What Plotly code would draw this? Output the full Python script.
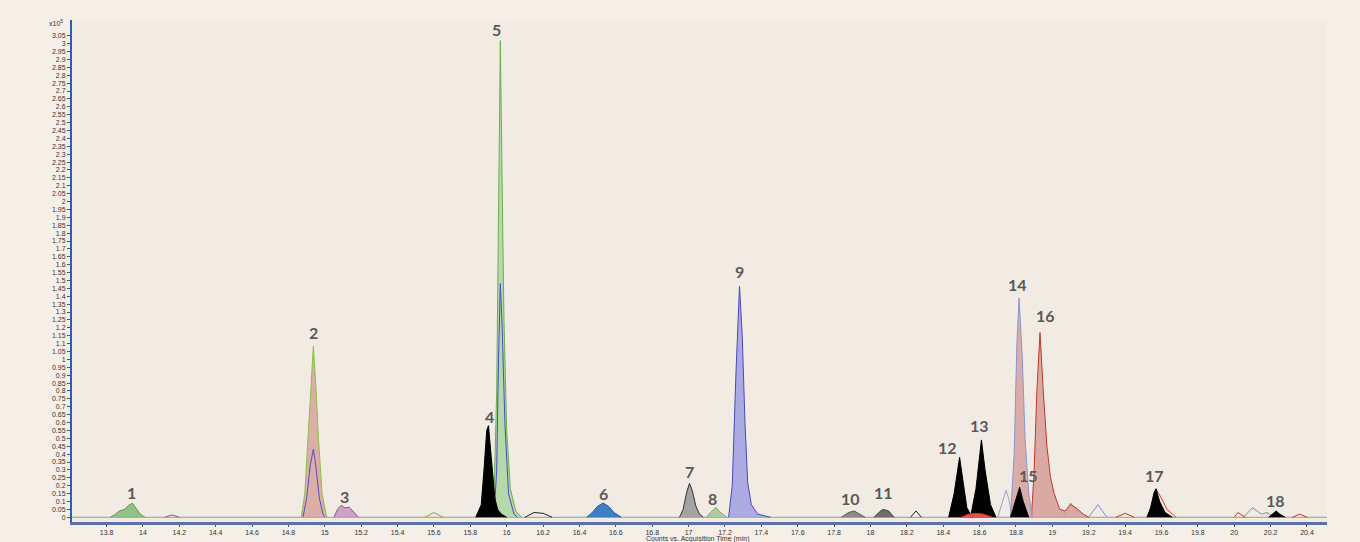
import plotly.graph_objects as go

# ---------------- data (time in min, counts x10^5) ----------------
p1_t = [13.82, 13.85, 13.87, 13.90, 13.92, 13.943, 13.96, 13.985, 14.01]
p1_v = [0, 0.02, 0.04, 0.05, 0.075, 0.089, 0.06, 0.02, 0]

p2_t = [14.87, 14.89, 14.91, 14.925, 14.937, 14.95, 14.965, 14.985, 15.01]
p2_v = [0, 0.15, 0.55, 0.9, 1.084, 0.85, 0.5, 0.15, 0]
p2b_t = [14.88, 14.90, 14.92, 14.937, 14.95, 14.97, 14.99, 15.0]
p2b_v = [0, 0.12, 0.33, 0.43, 0.33, 0.12, 0.02, 0]

p3_t = [15.05, 15.07, 15.09, 15.11, 15.135, 15.16, 15.185]
p3_v = [0, 0.05, 0.076, 0.06, 0.063, 0.03, 0]

p4_t = [15.83, 15.86, 15.875, 15.89, 15.90, 15.91, 15.92, 15.935, 15.95, 15.97, 16.0]
p4_v = [0, 0.08, 0.3, 0.55, 0.58, 0.45, 0.3, 0.12, 0.05, 0.02, 0]

p5_t = [15.91, 15.93, 15.945, 15.955, 15.965, 15.975, 15.985, 16.0, 16.02, 16.05, 16.08]
p5_v = [0, 0.12, 0.8, 2.0, 3.02, 2.1, 1.25, 0.55, 0.18, 0.04, 0]
p5b_t = [15.93, 15.945, 15.955, 15.965, 15.975, 15.99, 16.01, 16.04, 16.06]
p5b_v = [0, 0.3, 1.0, 1.48, 1.2, 0.6, 0.15, 0.02, 0]

p6_t = [16.44, 16.47, 16.50, 16.53, 16.56, 16.59, 16.63]
p6_v = [0, 0.03, 0.07, 0.09, 0.07, 0.03, 0]

p7_t = [16.95, 16.97, 16.99, 17.005, 17.02, 17.04, 17.06, 17.08]
p7_v = [0, 0.05, 0.16, 0.215, 0.17, 0.07, 0.02, 0]

p8_t = [17.10, 17.12, 17.15, 17.17, 17.21]
p8_v = [0, 0.03, 0.063, 0.035, 0]

p9_t = [17.22, 17.24, 17.26, 17.28, 17.295, 17.31, 17.325, 17.345, 17.38, 17.45]
p9_v = [0, 0.2, 0.9, 1.465, 1.15, 0.6, 0.22, 0.08, 0.02, 0]

p10_t = [17.84, 17.88, 17.91, 17.94, 17.97]
p10_v = [0, 0.03, 0.04, 0.02, 0]

p11_t = [18.02, 18.05, 18.07, 18.10, 18.13]
p11_v = [0, 0.035, 0.05, 0.04, 0]

p12_t = [18.43, 18.46, 18.49, 18.51, 18.53, 18.56]
p12_v = [0, 0.15, 0.38, 0.22, 0.06, 0]

p13_t = [18.55, 18.58, 18.61, 18.63, 18.66, 18.69]
p13_v = [0, 0.18, 0.49, 0.3, 0.08, 0]

red_low_t = [18.50, 18.54, 18.58, 18.62, 18.67]
red_low_v = [0, 0.02, 0.025, 0.02, 0]

p14_t = [18.77, 18.79, 18.805, 18.817, 18.835, 18.85, 18.87, 18.89]
p14_v = [0, 0.4, 1.1, 1.39, 1.0, 0.5, 0.15, 0]
p14s_t = [18.70, 18.73, 18.745, 18.76, 18.78]
p14s_v = [0, 0.12, 0.17, 0.12, 0]

p15_t = [18.77, 18.80, 18.82, 18.84, 18.87]
p15_v = [0, 0.12, 0.19, 0.1, 0]

p16_t = [18.885, 18.90, 18.915, 18.932, 18.95, 18.97, 18.99, 19.01, 19.04, 19.07, 19.10, 19.13, 19.17, 19.20]
p16_v = [0, 0.3, 0.8, 1.17, 0.8, 0.45, 0.25, 0.15, 0.05, 0.04, 0.08, 0.06, 0.02, 0]

p17_t = [19.52, 19.54, 19.56, 19.57, 19.59, 19.62, 19.66]
p17_v = [0, 0.06, 0.16, 0.18, 0.1, 0.03, 0]
p17r_t = [19.55, 19.57, 19.60, 19.63, 19.68]
p17r_v = [0, 0.18, 0.12, 0.05, 0]

p18_t = [20.19, 20.21, 20.23, 20.25, 20.28]
p18_v = [0, 0.02, 0.04, 0.02, 0]

# small baseline outlines
noise = [
    ([16.10, 16.15, 16.20, 16.25], [0, 0.03, 0.025, 0], "#222222"),
    ([18.22, 18.25, 18.28], [0, 0.04, 0], "#222222"),
    ([19.20, 19.25, 19.30], [0, 0.08, 0], "#7f8fd0"),
    ([20.05, 20.10, 20.15, 20.18, 20.22], [0, 0.06, 0.02, 0.03, 0], "#888888"),
    ([19.35, 19.40, 19.45], [0, 0.025, 0], "#c0392b"),
    ([20.00, 20.02, 20.06], [0, 0.03, 0], "#c0392b"),
    ([20.32, 20.36, 20.40], [0, 0.02, 0], "#c0392b"),
    ([15.55, 15.60, 15.65], [0, 0.03, 0], "#9aa040"),
    ([19.06, 19.10, 19.14], [0, 0.09, 0.03], "#6aa86a"),
    ([14.12, 14.16, 14.20], [0, 0.015, 0], "#8a5a8a"),
]

base_t = [13.61, 20.51]
base_v = [0, 0]

labels = ["1", "2", "3", "4", "5", "6", "7", "8", "9", "10", "11", "12", "13", "14", "15", "16", "17", "18"]
label_t = [13.937, 14.937, 15.108, 15.904, 15.943, 16.531, 17.003, 17.13, 17.278, 17.888,
           18.069, 18.426, 18.597, 18.811, 18.871, 18.965, 19.564, 20.229]
label_v = [0.159, 1.173, 0.133, 0.64, 3.088, 0.152, 0.292, 0.12, 1.554, 0.12,
           0.159, 0.444, 0.583, 1.477, 0.266, 1.281, 0.266, 0.108]

y_ticks = [round(i * 0.05, 2) for i in range(62)]
x_ticks = [round(13.8 + i * 0.2, 1) for i in range(34)]


def fmt(v):
    s = ("%.2f" % v).rstrip("0").rstrip(".")
    return s


fig = go.Figure()


def area(t, v, fill, line, w=1):
    fig.add_trace(go.Scatter(x=t, y=v, mode="lines", fill="tozeroy", fillcolor=fill,
                             line=dict(color=line, width=w), hoverinfo="skip", showlegend=False))


def outline(t, v, line, w=1):
    fig.add_trace(go.Scatter(x=t, y=v, mode="lines",
                             line=dict(color=line, width=w), hoverinfo="skip", showlegend=False))


outline(base_t, base_v, "#7fb070", 1)
for nt, nv, nc in noise:
    outline(nt, nv, nc, 1)

area(p1_t, p1_v, "rgba(130,186,120,0.85)", "#5a9a50")
area(p2_t, p2_v, "rgba(214,160,150,0.8)", "#8bbf4a")
outline(p2b_t, p2b_v, "#5a4cc0")
area(p3_t, p3_v, "rgba(196,152,192,0.85)", "#8a5a8a")
area(p5_t, p5_v, "rgba(170,214,160,0.85)", "#6ab04c")
outline(p5b_t, p5b_v, "#4a4ac8")
area(p4_t, p4_v, "#000000", "#000000")
area(p6_t, p6_v, "#3d7fc4", "#2a5f9e")
area(p7_t, p7_v, "#a3a3a3", "#333333")
area(p8_t, p8_v, "rgba(168,200,156,0.9)", "#7aa86a")
area(p9_t, p9_v, "rgba(166,166,226,0.95)", "#4a4ab5")
area(p10_t, p10_v, "#8a8a8a", "#555555")
area(p11_t, p11_v, "#6e6e6e", "#444444")
area(p12_t, p12_v, "#000000", "#000000")
area(p13_t, p13_v, "#000000", "#000000")
area(red_low_t, red_low_v, "#e05050", "#e03030")
outline(p14s_t, p14s_v, "#8fa7d8")
area(p16_t, p16_v, "rgba(214,158,152,0.85)", "#c0392b")
area(p14_t, p14_v, "rgba(214,162,160,0.85)", "#8797cf")
area(p15_t, p15_v, "#000000", "#000000")
outline(p17r_t, p17r_v, "#d04020")
area(p17_t, p17_v, "#000000", "#000000")
area(p18_t, p18_v, "#000000", "#000000")

for lab, lt, lv in zip(labels, label_t, label_v):
    fig.add_annotation(x=lt, y=lv, text="<b>%s</b>" % lab, showarrow=False,
                       font=dict(family="Lato", size=16, color="#595959"))

fig.add_annotation(xref="paper", yref="paper", x=-0.0056, y=0.994, xanchor="right", yanchor="middle",
                   text="x10<sup>5</sup>", showarrow=False,
                   font=dict(family="Liberation Sans", size=7, color="#333333"))
fig.add_annotation(xref="paper", yref="paper", x=0.4987, y=0, yshift=-11, xanchor="center", yanchor="top",
                   text="Counts vs. Acquisition Time (min)", showarrow=False,
                   font=dict(family="Liberation Sans", size=7, color="#333333"))

fig.update_layout(
    width=1360, height=542,
    margin=dict(l=72, r=33, t=20, b=20, autoexpand=False),
    paper_bgcolor="#f5efe8",
    plot_bgcolor="#f1ebe4",
    showlegend=False,
)
fig.update_xaxes(range=[13.61, 20.51], tickmode="array", tickvals=x_ticks,
                 ticktext=[fmt(v) for v in x_ticks], automargin=False,
                 showgrid=False, zeroline=False, showline=True, linecolor="#5b6fa8", linewidth=3,
                 ticks="outside", ticklen=2, tickcolor="#555555",
                 tickfont=dict(family="Liberation Sans", size=7, color="#333333"))
fig.update_yaxes(range=[-0.03, 3.15], tickmode="array", tickvals=y_ticks,
                 ticktext=[fmt(v) for v in y_ticks], automargin=False,
                 showgrid=False, zeroline=False, showline=True, linecolor="#2b5fb5", linewidth=2,
                 ticks="outside", ticklen=3, tickcolor="#555555",
                 tickfont=dict(family="Liberation Sans", size=7, color="#333333"))

fig.write_html("out.html", config={"displayModeBar": False},
               post_script="document.body.style.margin='0';document.body.style.overflow='hidden';"
                           "document.body.style.background='#f5efe8';")
